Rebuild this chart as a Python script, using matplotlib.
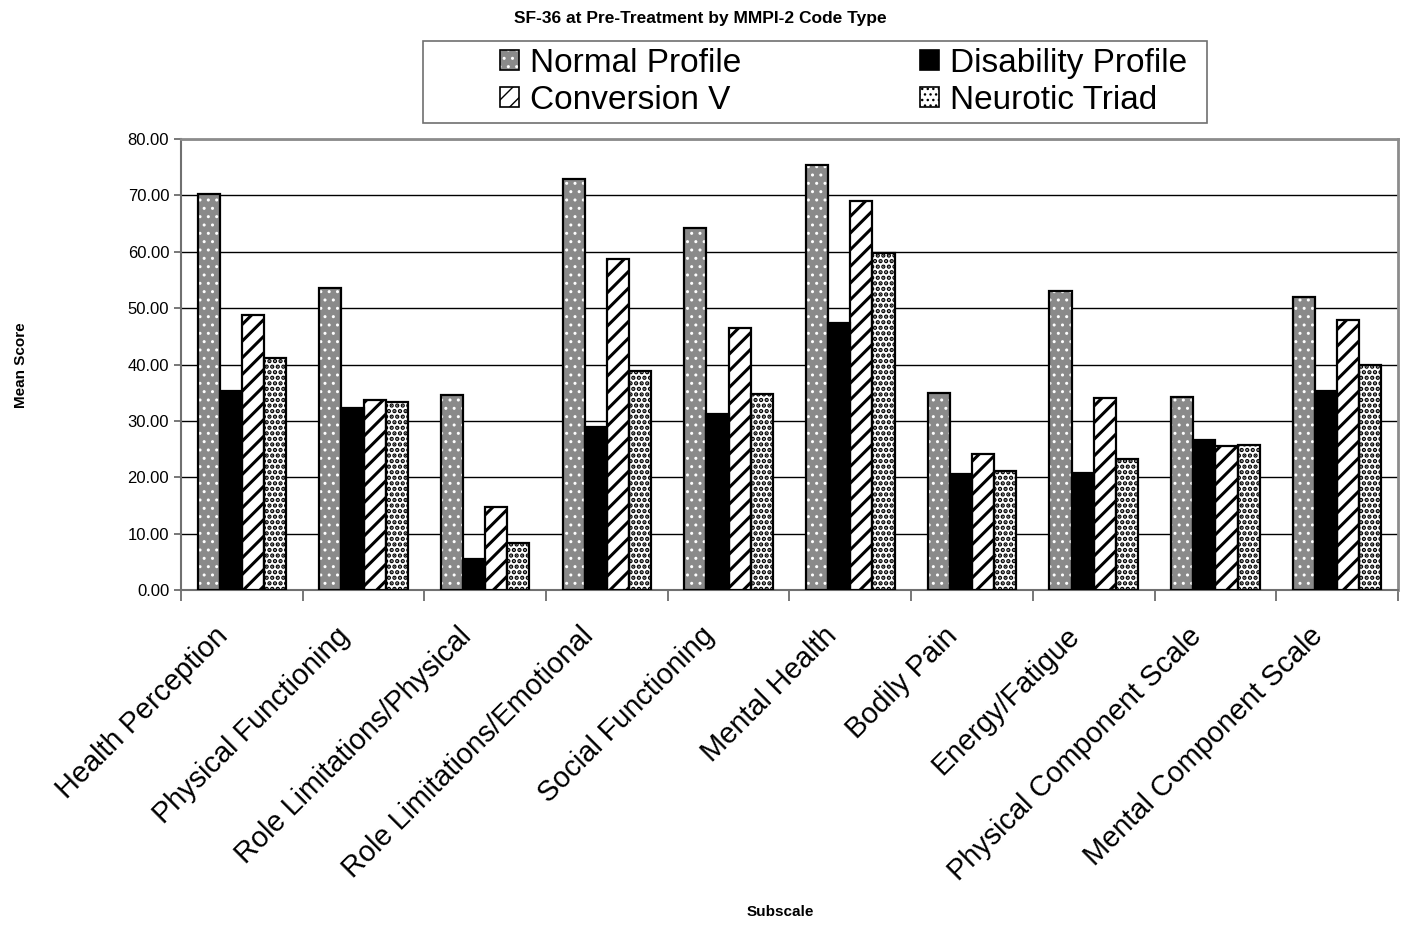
import matplotlib
matplotlib.use("Agg")
import matplotlib.pyplot as plt
from matplotlib.patches import Patch, Rectangle
from matplotlib.legend_handler import HandlerTuple
import numpy as np

plt.rcParams['font.family'] = ['Liberation Sans', 'DejaVu Sans']

categories = ["Health Perception", "Physical Functioning", "Role Limitations/Physical",
              "Role Limitations/Emotional", "Social Functioning", "Mental Health",
              "Bodily Pain", "Energy/Fatigue", "Physical Component Scale",
              "Mental Component Scale"]
series_names = ["Normal Profile", "Disability Profile", "Conversion V", "Neurotic Triad"]
normal = [70.3, 53.6, 34.6, 72.9, 64.3, 75.4, 35.0, 53.0, 34.3, 52.0]
disability = [35.3, 32.2, 5.5, 29.0, 31.3, 47.3, 20.6, 20.8, 26.7, 35.3]
conversion = [48.7, 33.7, 14.8, 58.8, 46.4, 69.0, 24.2, 34.1, 25.6, 47.9]
neurotic = [41.1, 33.4, 8.4, 38.8, 34.8, 59.7, 21.1, 23.2, 25.8, 39.9]
yticks = [0, 10, 20, 30, 40, 50, 60, 70, 80]

series = [normal, disability, conversion, neurotic]
styles = [
    dict(face='#8a8a8a', hatch='..', hcolor='white', hlw=1.0),
    dict(face='black', hatch=None, hcolor='black', hlw=1.0),
    dict(face='white', hatch='//', hcolor='black', hlw=2.2),
    dict(face='white', hatch='...', hcolor='black', hlw=2.2),
]


def set_hlw(p, lw):
    try:
        p.set_hatch_linewidth(lw)
    except Exception:
        pass


fig = plt.figure(figsize=(14.03, 9.26), dpi=100)
ax = fig.add_axes([0.129, 0.3628, 0.8674, 0.4871])

n = len(categories)
x = np.arange(n)
bw = 1 / 5.5
handles = []
for i, (vals, st) in enumerate(zip(series, styles)):
    pos = x - 2 * bw + (i + 0.5) * bw
    bars = ax.bar(pos, vals, width=bw, color=st['face'], edgecolor=st['hcolor'],
                  hatch=st['hatch'], linewidth=0, zorder=3)
    for b in bars:
        set_hlw(b, st['hlw'])
    ax.bar(pos, vals, width=bw, fill=False, edgecolor='black', linewidth=1.6, zorder=4)
    p = Patch(facecolor=st['face'], edgecolor=st['hcolor'], hatch=st['hatch'], linewidth=0)
    set_hlw(p, st['hlw'])
    q = Patch(fill=False, edgecolor='black', linewidth=1.2)
    handles.append((p, q))

ax.set_xlim(-0.5, n - 0.5)
ax.set_ylim(0, 80)
ax.set_yticks(yticks)
ax.set_yticklabels([f"{v:.2f}" for v in yticks], fontsize=12)
ax.yaxis.grid(True, color='black', linewidth=1.0, zorder=0)
ax.set_axisbelow(True)

ax.set_xticks(np.arange(n + 1) - 0.5)
ax.set_xticklabels([])
ax.tick_params(axis='x', length=8, width=1.2, color='#606060', direction='out')
ax.tick_params(axis='y', length=5, width=1.2, color='#606060', direction='out')
for i, c in enumerate(categories):
    ax.text(i - 0.15, -7.4, c, rotation=45, ha='right', va='center', rotation_mode='anchor',
            fontsize=20.8)

for s in ['top', 'right']:
    ax.spines[s].set_color('#8c8c8c')
    ax.spines[s].set_linewidth(2)
for s in ['left', 'bottom']:
    ax.spines[s].set_color('#707070')
    ax.spines[s].set_linewidth(1.5)

fig.text(0.499, 0.980, "SF-36 at Pre-Treatment by MMPI-2 Code Type", ha='center', va='center',
         fontsize=12.5, fontweight='bold')
fig.text(0.015, 0.606, "Mean Score", rotation=90, ha='center', va='center', fontsize=11,
         fontweight='bold')
fig.text(0.556, 0.015, "Subscale", ha='center', va='center', fontsize=11, fontweight='bold')

# legend frame
W, H = 1403.0, 926.0
fig.patches.append(Rectangle((423 / W, 1 - 123 / H), (1207 - 423) / W, (123 - 41) / H,
                             transform=fig.transFigure, fill=False, edgecolor='#707070',
                             linewidth=1.2))
order = [0, 2, 1, 3]
leg = fig.legend([handles[k] for k in order], [series_names[k] for k in order], ncol=2,
                 loc='center left', bbox_to_anchor=(500 / W, 1 - 82 / H), fontsize=24,
                 frameon=False, handlelength=0.57, handleheight=0.57, handletextpad=0.33,
                 columnspacing=5.35, labelspacing=0.18, borderpad=0, borderaxespad=0,
                 handler_map={tuple: HandlerTuple(ndivide=1)})

fig.savefig("out.png", dpi=100)
